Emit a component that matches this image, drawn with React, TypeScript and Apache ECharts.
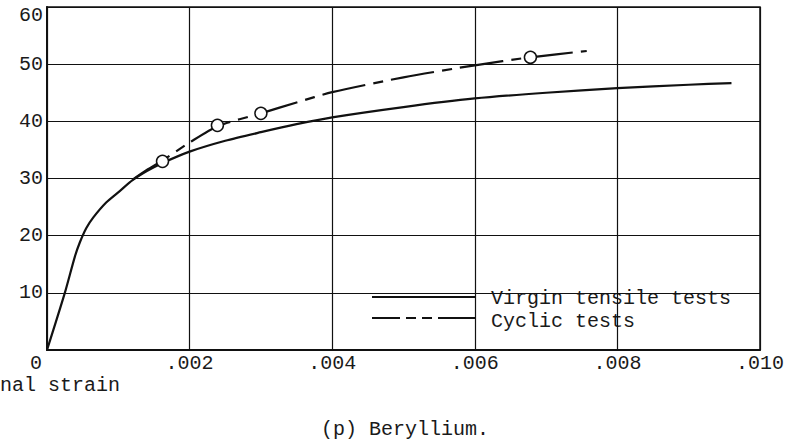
import React, { useEffect, useRef } from "react";
import * as echarts from "echarts";

// Virgin tensile test curve: [strain, stress (ksi)]
const virginStrain = [0, 0.00025, 0.00039, 0.00046, 0.00055, 0.00065, 0.00083, 0.00102, 0.0012, 0.0014, 0.0016, 0.002, 0.0025, 0.003, 0.0035, 0.004, 0.005, 0.006, 0.007, 0.008, 0.009, 0.0096];
const virginStress = [0, 10, 16.3, 18.8, 21.3, 23.2, 25.8, 27.8, 29.7, 31.3, 32.6, 34.7, 36.6, 38.1, 39.5, 40.7, 42.5, 44.0, 45.0, 45.8, 46.4, 46.7];

// Cyclic test curve
const cyclicStrain = [0.0012, 0.0014, 0.0016, 0.002, 0.0024, 0.003, 0.0035, 0.004, 0.005, 0.006, 0.00678, 0.00757];
const cyclicStress = [29.8, 31.5, 33.0, 36.3, 39.2, 41.4, 43.3, 45.1, 47.7, 49.8, 51.2, 52.3];

// Measured cyclic test points
const testStrain = [0.00162, 0.00239, 0.003, 0.00678];
const testStress = [33.0, 39.3, 41.4, 51.2];

const xTicks = [0, 0.002, 0.004, 0.006, 0.008, 0.01];
const yTicks = [0, 10, 20, 30, 40, 50, 60];

const legendLabels = ["Virgin tensile tests", "Cyclic tests"];
const caption = "(p) Beryllium.";
const xAxisName = "nal strain";

const FONT = "'Liberation Mono', 'DejaVu Sans Mono', monospace";
const INK = "#111";
const TEXT = "#1a1a1a";
const FS = 20;

const pairs = (xs: number[], ys: number[]) => xs.map((x, i) => [x, ys[i]]);

export default function App() {
  const ref = useRef<HTMLDivElement>(null);

  useEffect(() => {
    if (!ref.current) return;
    const chart = echarts.init(ref.current, null, { renderer: "svg" });
    chart.setOption({
      animation: false,
      backgroundColor: "#fff",
      grid: {
        left: 47,
        top: 7,
        right: 28,
        bottom: 90,
        show: true,
        borderColor: INK,
        borderWidth: 1.5,
        backgroundColor: "transparent",
      },
      xAxis: {
        type: "value",
        min: xTicks[0],
        max: xTicks[xTicks.length - 1],
        interval: 0.002,
        axisLine: { show: true, onZero: false, lineStyle: { color: INK, width: 2 } },
        axisTick: { show: false },
        splitLine: { show: true, lineStyle: { color: INK, width: 1.2 } },
        axisLabel: {
          margin: 5,
          fontFamily: FONT,
          fontSize: FS,
          lineHeight: 17,
          color: TEXT,
          formatter: (v: number) =>
            v === 0 ? "{z|0}" : "." + (v * 1000).toFixed(0).padStart(3, "0"),
          rich: {
            z: { fontFamily: FONT, fontSize: FS, lineHeight: 17, color: TEXT, padding: [0, 22, 0, 0] },
          },
        },
      },
      yAxis: {
        type: "value",
        min: yTicks[0],
        max: yTicks[yTicks.length - 1],
        interval: 10,
        axisLine: { show: true, onZero: false, lineStyle: { color: INK, width: 2 } },
        axisTick: { show: false },
        splitLine: { show: true, lineStyle: { color: INK, width: 1.2 } },
        axisLabel: {
          margin: 4,
          showMinLabel: false,
          fontFamily: FONT,
          fontSize: FS,
          color: TEXT,
          formatter: (v: number) => (v === 60 ? "{t|60}" : String(v)),
          rich: {
            t: { fontFamily: FONT, fontSize: FS, color: TEXT, padding: [16, 0, 0, 0] },
          },
        },
      },
      series: [
        {
          name: legendLabels[0],
          type: "line",
          data: pairs(virginStrain, virginStress),
          smooth: 0.25,
          showSymbol: false,
          lineStyle: { color: INK, width: 2.2 },
          z: 3,
        },
        {
          name: legendLabels[1],
          type: "line",
          data: pairs(cyclicStrain, cyclicStress),
          smooth: 0.25,
          showSymbol: false,
          lineStyle: { color: INK, width: 2.2, type: [44, 8, 10, 8] },
          z: 3,
        },
        {
          name: "points",
          type: "scatter",
          data: pairs(testStrain, testStress),
          symbol: "circle",
          symbolSize: 12,
          itemStyle: { color: "#fff", borderColor: INK, borderWidth: 1.5, opacity: 1 },
          z: 5,
        },
      ],
      graphic: [
        {
          type: "group",
          z: 100,
          children: [
            { type: "rect", shape: { x: 354, y: 281, width: 402, height: 53 }, style: { fill: "#fff" } },
            { type: "line", shape: { x1: 372, y1: 297, x2: 475, y2: 297 }, style: { stroke: INK, lineWidth: 2 } },
            {
              type: "line",
              shape: { x1: 372, y1: 318, x2: 475, y2: 318 },
              style: { stroke: INK, lineWidth: 2, lineDash: [28, 6, 10, 6, 10, 6, 60, 0] },
            },
            {
              type: "text",
              x: 491,
              y: 298.5,
              style: { text: legendLabels[0], font: `${FS}px ${FONT}`, fill: TEXT, verticalAlign: "middle" },
            },
            {
              type: "text",
              x: 491,
              y: 321,
              style: { text: legendLabels[1], font: `${FS}px ${FONT}`, fill: TEXT, verticalAlign: "middle" },
            },
          ],
        },
        {
          type: "text",
          x: 0,
          y: 385,
          style: { text: xAxisName, font: `${FS}px ${FONT}`, lineHeight: 17, fill: TEXT, verticalAlign: "middle" },
        },
        {
          type: "text",
          x: 321,
          y: 429,
          style: { text: caption, font: `${FS}px ${FONT}`, fill: TEXT, verticalAlign: "middle" },
        },
      ],
    });
    return () => chart.dispose();
  }, []);

  return <div ref={ref} style={{ width: 788, height: 440, position: "absolute", left: 0, top: 0 }} />;
}
